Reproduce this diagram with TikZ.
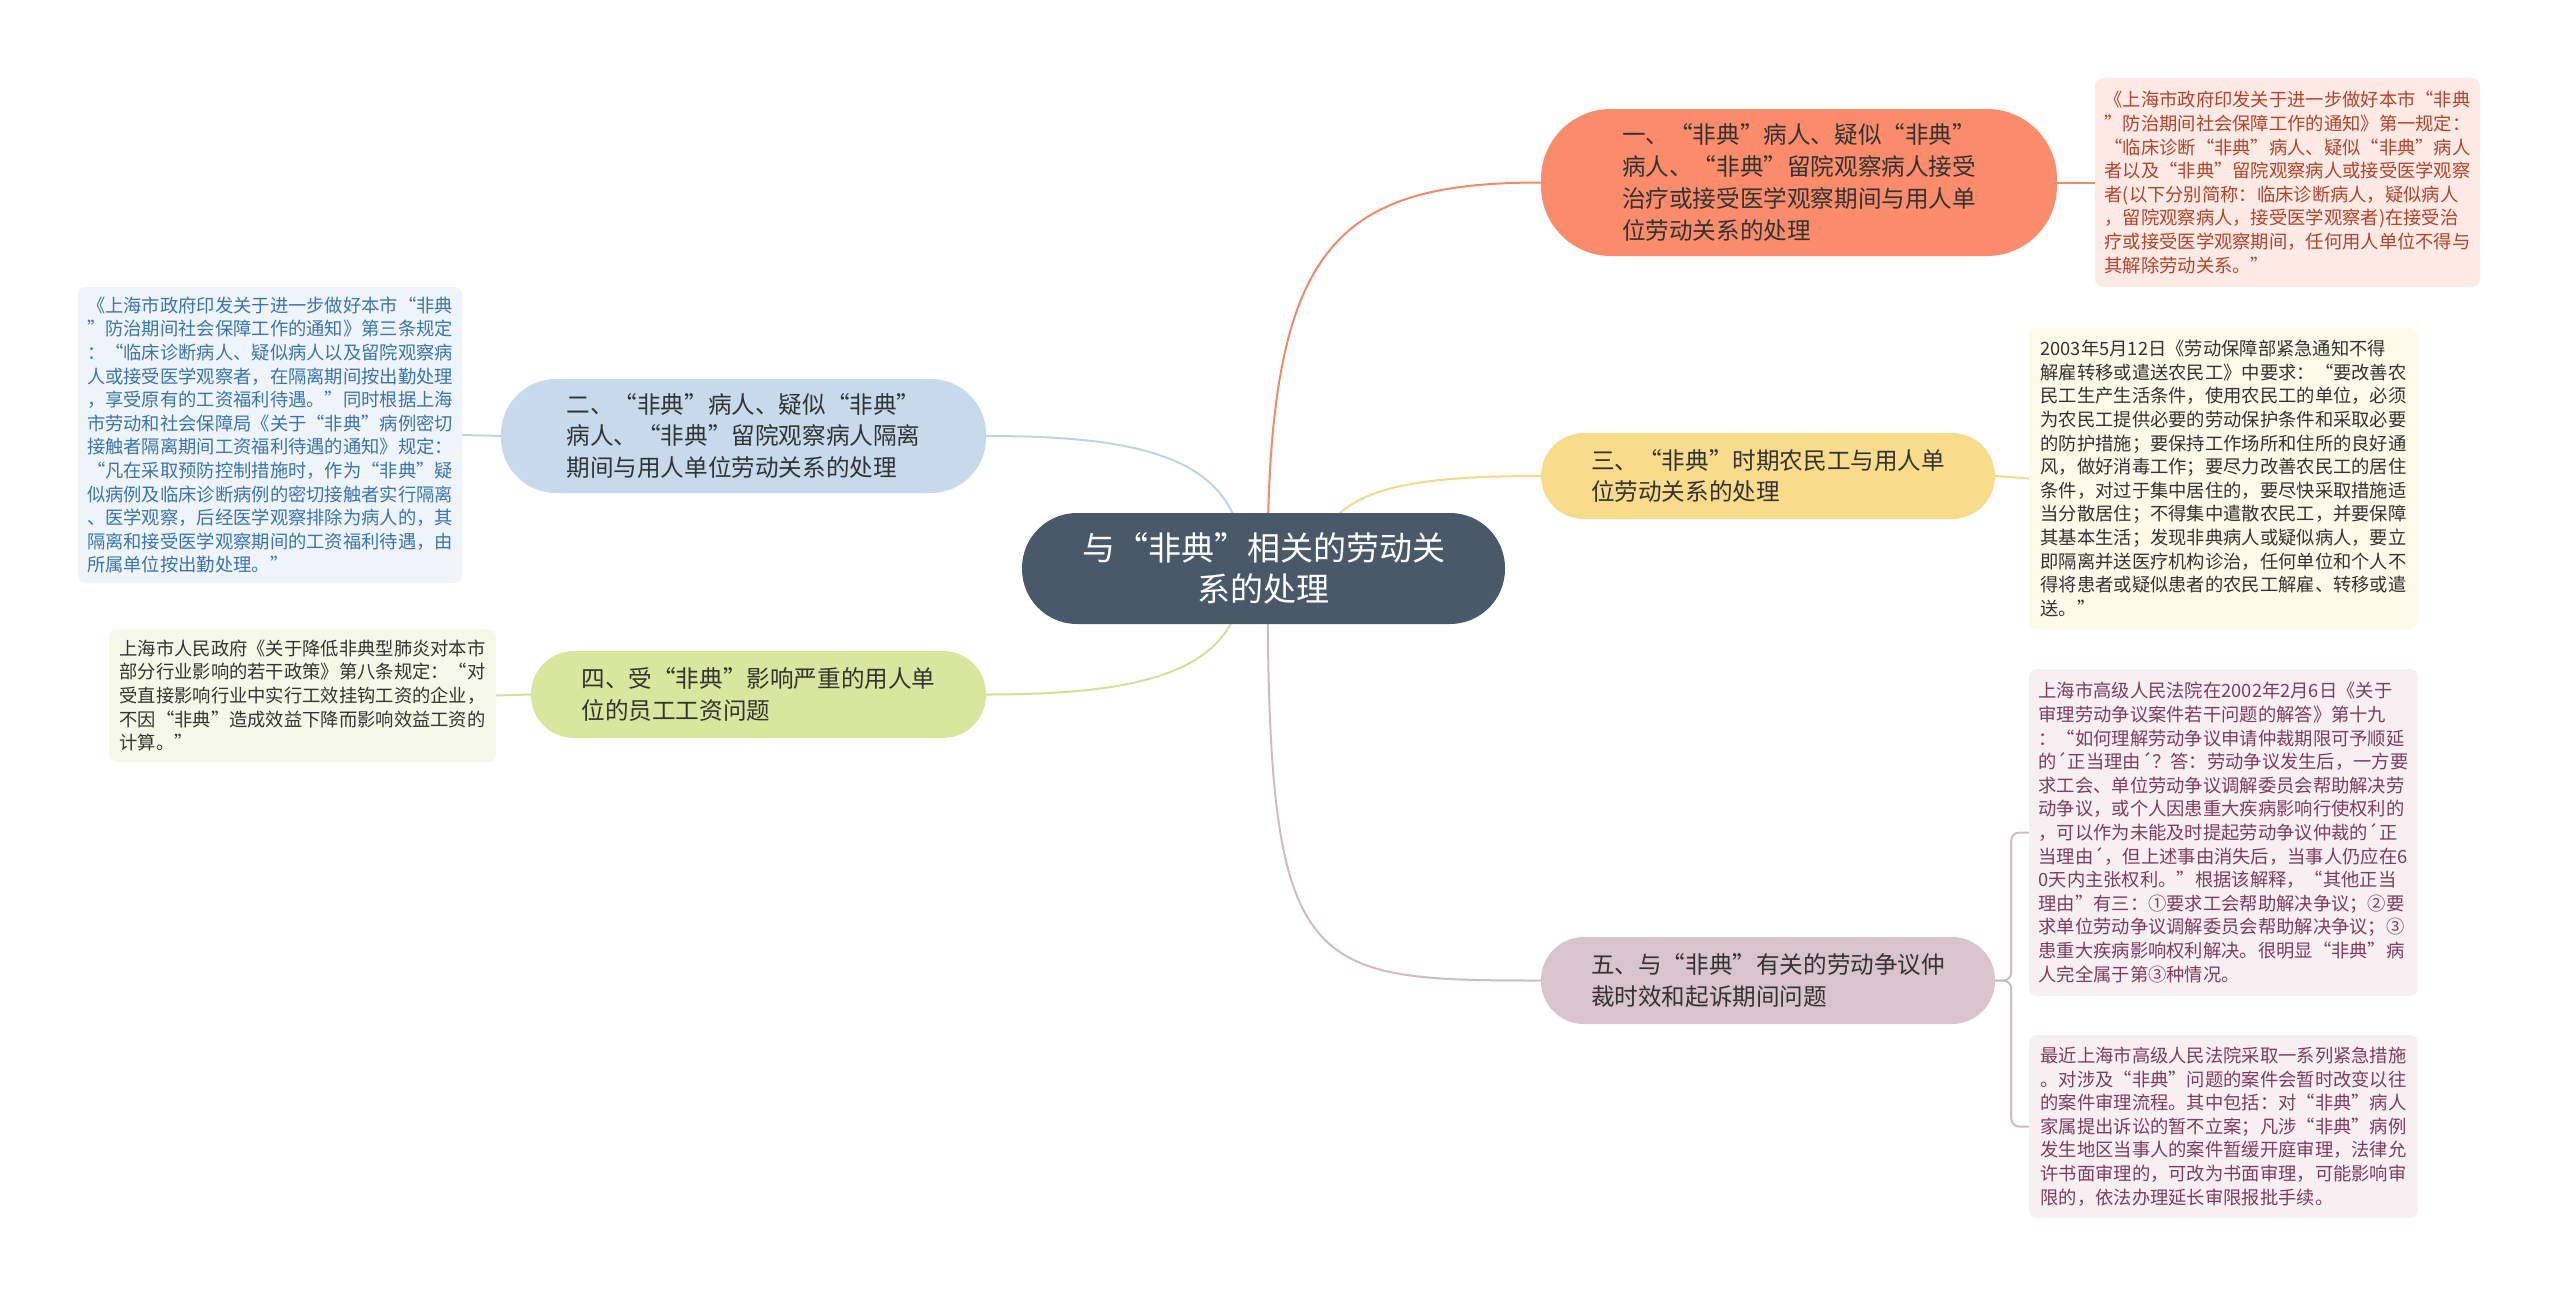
\documentclass[tikz,border=0pt]{standalone}
\usepackage{fontspec}
\newfontfamily\cjk{Noto Sans CJK SC}
\pgfdeclarelayer{background}
\pgfsetlayers{background,main}
\definecolor{rootc}{HTML}{4A5969}
\definecolor{c1}{HTML}{FA8B6B}
\definecolor{c2}{HTML}{C6DAEC}
\definecolor{c3}{HTML}{F8DC8C}
\definecolor{c4}{HTML}{D9E69E}
\definecolor{c5}{HTML}{D9C3CD}
\definecolor{l1}{HTML}{FDEAE5}
\definecolor{l2}{HTML}{EEF4FA}
\definecolor{l3}{HTML}{FFF9E9}
\definecolor{l4}{HTML}{F5F8E7}
\definecolor{l5}{HTML}{F8EFF3}
\definecolor{t1}{HTML}{B3432B}
\definecolor{t2}{HTML}{3A75AF}
\definecolor{t5}{HTML}{7D3D60}
\definecolor{e1}{HTML}{F08A68}
\definecolor{e2}{HTML}{BFD4E7}
\definecolor{e3}{HTML}{F3D988}
\definecolor{e4}{HTML}{D3E198}
\definecolor{e5}{HTML}{D1BAC5}
\definecolor{txt}{HTML}{333333}
\tikzset{
  rootbox/.style={fill=rootc, text=white, align=center, rounded corners=55pt,
    minimum width=483pt, minimum height=111pt, inner sep=0pt,
    font={\cjk\fontsize{33}{41}\selectfont}},
  branch/.style={align=left, inner sep=0pt, text=txt,
    font={\cjk\fontsize{23.6}{31.8}\selectfont}},
  leaf/.style={align=left, inner sep=0pt, rounded corners=8pt, text=txt,
    font={\cjk\fontsize{18.3}{23.6}\selectfont}},
  conn/.style={line width=2pt}
}
\begin{document}
\begin{tikzpicture}[x=1pt,y=-1pt]
\useasboundingbox (0,0) rectangle (2560,1299);
% root
\node[rootbox] (root) at (1263.5,568.5) {与“非典”相关的劳动关\\系的处理};
% branches
\node[branch, fill=c1, rounded corners=70pt, minimum width=516pt, minimum height=147pt] (n1) at (1799,182.5)
  {一、“非典”病人、疑似“非典”\\病人、“非典”留院观察病人接受\\治疗或接受医学观察期间与用人单\\位劳动关系的处理};
\node[branch, fill=c2, rounded corners=55pt, minimum width=485pt, minimum height=114pt] (n2) at (743.5,436)
  {二、“非典”病人、疑似“非典”\\病人、“非典”留院观察病人隔离\\期间与用人单位劳动关系的处理};
\node[branch, fill=c3, rounded corners=43pt, minimum width=454pt, minimum height=86pt] (n3) at (1768,476)
  {三、“非典”时期农民工与用人单\\位劳动关系的处理};
\node[branch, fill=c4, rounded corners=43pt, minimum width=455pt, minimum height=87pt] (n4) at (758.5,694.5)
  {四、受“非典”影响严重的用人单\\位的员工工资问题};
\node[branch, fill=c5, rounded corners=43pt, minimum width=454pt, minimum height=87pt] (n5) at (1768,980.5)
  {五、与“非典”有关的劳动争议仲\\裁时效和起诉期间问题};
% leaves
\node[leaf, fill=l1, text=t1, minimum width=385pt, minimum height=209pt] (L1) at (2287.5,182.5)
  {《上海市政府印发关于进一步做好本市“非典\\”防治期间社会保障工作的通知》第一规定：\\“临床诊断“非典”病人、疑似“非典”病人\\者以及“非典”留院观察病人或接受医学观察\\者(以下分别简称：临床诊断病人，疑似病人\\，留院观察病人，接受医学观察者)在接受治\\疗或接受医学观察期间，任何用人单位不得与\\其解除劳动关系。”};
\node[leaf, fill=l2, text=t2, minimum width=384pt, minimum height=296pt] (L2) at (270,435)
  {《上海市政府印发关于进一步做好本市“非典\\”防治期间社会保障工作的通知》第三条规定\\：“临床诊断病人、疑似病人以及留院观察病\\人或接受医学观察者，在隔离期间按出勤处理\\，享受原有的工资福利待遇。”同时根据上海\\市劳动和社会保障局《关于“非典”病例密切\\接触者隔离期间工资福利待遇的通知》规定：\\“凡在采取预防控制措施时，作为“非典”疑\\似病例及临床诊断病例的密切接触者实行隔离\\、医学观察，后经医学观察排除为病人的，其\\隔离和接受医学观察期间的工资福利待遇，由\\所属单位按出勤处理。”};
\node[leaf, fill=l3, minimum width=389pt, minimum height=301pt] (L3) at (2223.5,478.5)
  {2003年5月12日《劳动保障部紧急通知不得\\解雇转移或遣送农民工》中要求：“要改善农\\民工生产生活条件，使用农民工的单位，必须\\为农民工提供必要的劳动保护条件和采取必要\\的防护措施；要保持工作场所和住所的良好通\\风，做好消毒工作；要尽力改善农民工的居住\\条件，对过于集中居住的，要尽快采取措施适\\当分散居住；不得集中遣散农民工，并要保障\\其基本生活；发现非典病人或疑似病人，要立\\即隔离并送医疗机构诊治，任何单位和个人不\\得将患者或疑似患者的农民工解雇、转移或遣\\送。”};
\node[leaf, fill=l4, minimum width=387pt, minimum height=133pt] (L4) at (302.5,695.5)
  {上海市人民政府《关于降低非典型肺炎对本市\\部分行业影响的若干政策》第八条规定：“对\\受直接影响行业中实行工效挂钩工资的企业，\\不因“非典”造成效益下降而影响效益工资的\\计算。”};
\node[leaf, fill=l5, text=t5, minimum width=389pt, minimum height=327pt] (L5a) at (2223.5,832.5)
  {上海市高级人民法院在2002年2月6日《关于\\审理劳动争议案件若干问题的解答》第十九\\：“如何理解劳动争议申请仲裁期限可予顺延\\的´正当理由´？答：劳动争议发生后，一方要\\求工会、单位劳动争议调解委员会帮助解决劳\\动争议，或个人因患重大疾病影响行使权利的\\，可以作为未能及时提起劳动争议仲裁的´正\\当理由´，但上述事由消失后，当事人仍应在6\\0天内主张权利。”根据该解释，“其他正当\\理由”有三：①要求工会帮助解决争议；②要\\求单位劳动争议调解委员会帮助解决争议；③\\患重大疾病影响权利解决。很明显“非典”病\\人完全属于第③种情况。};
\node[leaf, fill=l5, text=t5, minimum width=389pt, minimum height=183pt] (L5b) at (2223.5,1126.5)
  {最近上海市高级人民法院采取一系列紧急措施\\。对涉及“非典”问题的案件会暂时改变以往\\的案件审理流程。其中包括：对“非典”病人\\家属提出诉讼的暂不立案；凡涉“非典”病例\\发生地区当事人的案件暂缓开庭审理，法律允\\许书面审理的，可改为书面审理，可能影响审\\限的，依法办理延长审限报批手续。};
% connectors
\begin{pgfonlayer}{background}
\fill[white] (0,0) rectangle (2560,1299);
\draw[conn, e1] ([xshift=4pt]root.center) .. controls (1267.5,250) and (1330,182.5) .. (n1.west);
\draw[conn, e3] ([xshift=54pt]root.center) .. controls (1317.5,490) and (1400,476) .. (n3.west);
\draw[conn, e5] ([xshift=4pt]root.center) .. controls (1267.5,975) and (1300,980.5) .. (n5.west);
\draw[conn, e2] ([xshift=-20pt]root.center) .. controls (1243.5,460) and (1150,436) .. (n2.east);
\draw[conn, e4] ([xshift=-20pt]root.center) .. controls (1243.5,670) and (1150,694.5) .. (n4.east);
\draw[conn, e1] (n1.east) -- (L1.west);
\draw[conn, e3] (n3.east) -- (L3.west);
\draw[conn, e2] (n2.west) -- (L2.east);
\draw[conn, e4] (n4.west) -- (L4.east);
\draw[conn, e5, rounded corners=8pt] (n5.east) -- ++(16,0) |- (L5a.west);
\draw[conn, e5, rounded corners=8pt] (n5.east) -- ++(16,0) |- (L5b.west);
\end{pgfonlayer}
\end{tikzpicture}
\end{document}
